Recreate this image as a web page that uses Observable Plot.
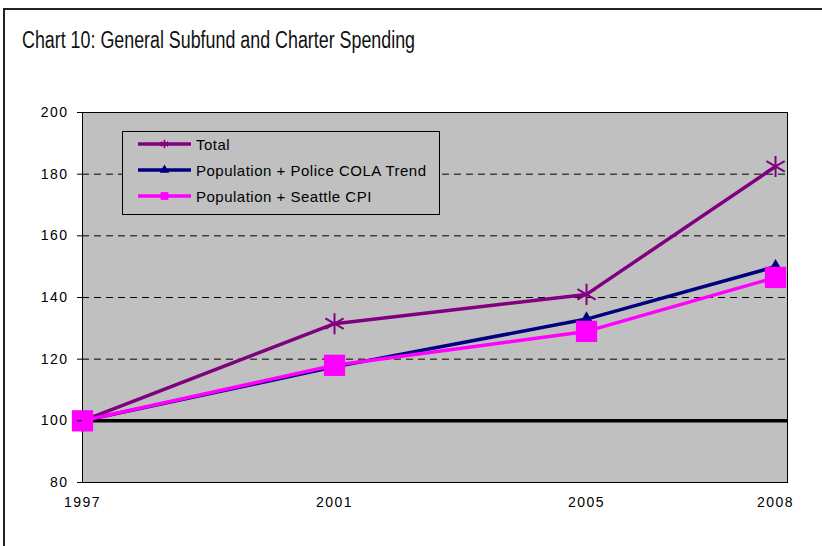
<!DOCTYPE html>
<html>
<head>
<meta charset="utf-8">
<script src="https://cdn.jsdelivr.net/npm/d3@7"></script>
<script src="https://cdn.jsdelivr.net/npm/@observablehq/plot@0.6"></script>
<style>
  html, body { margin: 0; padding: 0; background: #fff; }
  #wrap { position: relative; width: 822px; height: 546px; overflow: hidden; font-family: "Liberation Sans", Arial, sans-serif; }
  #border { position: absolute; left: 3px; top: 8px; width: 900px; height: 700px; border-left: 2px solid #222; border-top: 2px solid #222; box-sizing: border-box; }
  #title { position: absolute; left: 0; top: 0; }
  #chart { position: absolute; left: 0; top: 0; }
  #legend { position: absolute; left: 122px; top: 131px; width: 318px; height: 84px; box-sizing: border-box; background: #C0C0C0; border: 1px solid #000; }
  .row { position: absolute; left: 15px; height: 20px; display: flex; align-items: center; }
  .row span { font-size: 15px; letter-spacing: 0.5px; color: #000; margin-left: 4px; white-space: nowrap; }
</style>
</head>
<body>
<div id="wrap">
  <div id="chart"></div>
  <div id="border"></div>
  <svg id="title" width="822" height="70"><text x="22" y="48" textLength="393" lengthAdjust="spacingAndGlyphs" font-family="'Liberation Sans', Arial, sans-serif" font-size="23.5" font-weight="normal" fill="#111">Chart 10: General Subfund and Charter Spending</text></svg>
  <div id="legend"></div>
</div>
<script>
const years = [1997, 2001, 2005, 2008];
const seriesNames = ["Total", "Population + Police COLA Trend", "Population + Seattle CPI"];
const totalValues = [100, 131.5, 141, 182.5];
const policeValues = [100, 117.5, 133, 150];
const cpiValues = [100, 118, 129, 146.5];
const yTicks = [80, 100, 120, 140, 160, 180, 200];
const gridValues = [120, 140, 160, 180];
const baseValue = [100];

const colors = ["#800080", "#000080", "#FF00FF"];
const symbols = ["asterisk", "triangle", "square"];
const radii = [10, 5, 12];

const series = [totalValues, policeValues, cpiValues].map((vals, i) =>
  years.map((yr, j) => ({year: yr, value: vals[j], name: seriesNames[i]}))
);

const marks = [
  Plot.frame({fill: "#C0C0C0"}),
  Plot.ruleY(gridValues, {stroke: "#000", strokeWidth: 1, strokeDasharray: "7,5"}),
  Plot.ruleY(baseValue, {stroke: "#000", strokeWidth: 3.5}),
  Plot.frame({stroke: "#000", strokeWidth: 1}),
];
series.forEach((d, i) => {
  marks.push(Plot.line(d, {x: "year", y: "value", stroke: colors[i], strokeWidth: 3.5}));
});
series.forEach((d, i) => {
  if (symbols[i] === "asterisk") {
    marks.push(Plot.dot(d, {x: "year", y: "value", symbol: "asterisk", r: radii[i], stroke: colors[i], strokeWidth: 2, fill: "none"}));
  } else {
    marks.push(Plot.dot(d, {x: "year", y: "value", symbol: symbols[i], r: radii[i], fill: colors[i], stroke: "none"}));
  }
});
marks.push(
  Plot.axisY({ticks: yTicks, tickSize: 5, tickPadding: 9, tickFormat: d => String(d), fontSize: 14, stroke: "#000"}),
  Plot.axisX({ticks: years, tickSize: 0, tickPadding: 15, tickFormat: d => String(d), fontSize: 14})
);

const chart = Plot.plot({
  width: 822,
  height: 546,
  marginLeft: 82,
  marginRight: 35,
  marginTop: 112,
  marginBottom: 64,
  style: {fontFamily: "'Liberation Sans', Arial, sans-serif", fontSize: "14px", color: "#000", background: "transparent", letterSpacing: "1.5px"},
  x: {type: "linear", domain: [1997, 2008.19], label: null},
  y: {domain: [80, 200], label: null},
  marks
});
document.getElementById("chart").appendChild(chart);

// Legend
const legend = document.getElementById("legend");
const rowTops = [2, 28, 54];
seriesNames.forEach((name, i) => {
  const row = document.createElement("div");
  row.className = "row";
  row.style.top = rowTops[i] + "px";
  const svg = d3.create("svg").attr("width", 54).attr("height", 20);
  svg.append("line").attr("x1", 0).attr("x2", 53).attr("y1", 10).attr("y2", 10)
    .attr("stroke", colors[i]).attr("stroke-width", 3.5);
  const sym = d3.symbol().type(i === 0 ? d3.symbolAsterisk : i === 1 ? d3.symbolTriangle : d3.symbolSquare)
    .size(i === 0 ? 50 : i === 1 ? 40 : 60);
  svg.append("path").attr("d", sym()).attr("transform", "translate(26.5,10)")
    .attr("fill", i === 0 ? "none" : colors[i]).attr("stroke", i === 0 ? colors[i] : "none").attr("stroke-width", 1.5);
  row.appendChild(svg.node());
  const span = document.createElement("span");
  span.textContent = name;
  row.appendChild(span);
  legend.appendChild(row);
});
</script>
</body>
</html>
